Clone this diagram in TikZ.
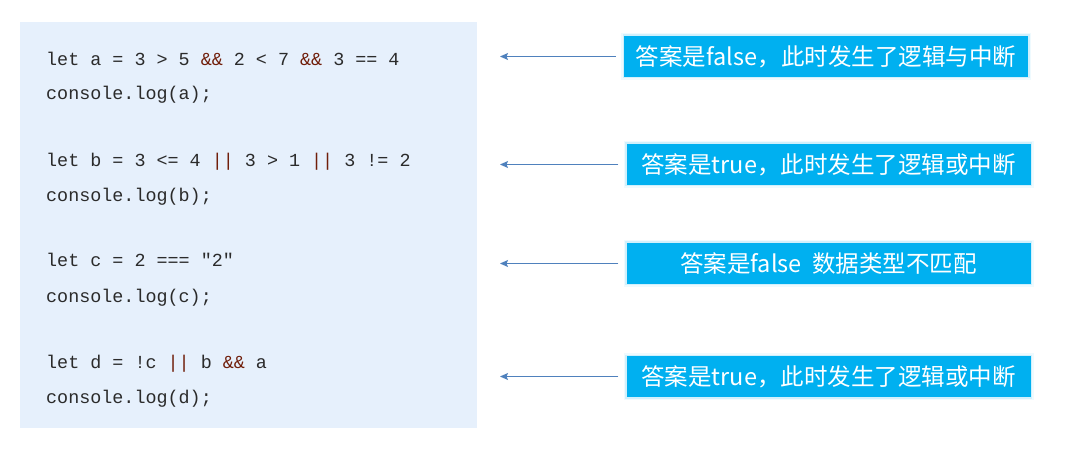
\documentclass[tikz,border=0pt]{standalone}
\usepackage{fontspec}
\usetikzlibrary{arrows.meta}
\newfontfamily\cjk{Noto Sans CJK SC}
\newfontfamily\codefont{Liberation Mono}
\definecolor{panel}{HTML}{E6F0FC}
\definecolor{boxblue}{HTML}{00B0F0}
\definecolor{arrowblue}{HTML}{4F81BD}
\definecolor{codetext}{HTML}{2B2B2B}
\definecolor{opred}{HTML}{701E0A}
\newcommand\opr[1]{\textcolor{opred}{#1}}
\begin{document}
\begin{tikzpicture}[x=1pt,y=-1pt,
  code/.style={anchor=base west, inner sep=0pt, font=\codefont\fontsize{18.4}{20}\selectfont, text=codetext},
  answer/.style={fill=boxblue, minimum width=404pt, minimum height=41pt, inner sep=0pt,
    text=white, font=\cjk\fontsize{23.5}{26}\selectfont,
    preaction={draw=boxblue!60, line width=6pt, draw opacity=0.10},
    preaction={draw=boxblue!60, line width=3pt, draw opacity=0.22}},
  link/.style={draw=arrowblue, line width=1.2pt, shorten <=8pt, -{Stealth[length=8pt,width=7pt,inset=1.5pt]}}
]
\fill[white] (0,0) rectangle (1076,462);
\useasboundingbox (0,0) rectangle (1076,462);
\fill[panel] (20,22) rectangle (477,428);

\node[code] (c1) at (46,66) {let a = 3 > 5 \opr{\&\&} 2 < 7 \opr{\&\&} 3 == 4};
\node[code] (c2) at (46,100) {console.log(a);};
\node[code] (c3) at (46,167) {let b = 3 <= 4 \opr{||} 3 > 1 \opr{||} 3 != 2};
\node[code] (c4) at (46,202) {console.log(b);};
\node[code] (c5) at (46,267) {let c = 2 === "2"};
\node[code] (c6) at (46,302) {console.log(c);};
\node[code] (c7) at (46,368) {let d = !c \opr{||} b \opr{\&\&} a};
\node[code] (c8) at (46,403) {console.log(d);};

\node[answer] (b1) at (826,56.5) {答案是false，此时发生了逻辑与中断};
\node[answer] (b2) at (828.5,164.5) {答案是true，此时发生了逻辑或中断};
\node[answer] (b3) at (828.5,263.5) {答案是false\ \ 数据类型不匹配};
\node[answer] (b4) at (828.5,376.5) {答案是true，此时发生了逻辑或中断};

\coordinate (t1) at (500,56.5);
\coordinate (t2) at (500,164.5);
\coordinate (t3) at (500,263.5);
\coordinate (t4) at (500,376.5);

\draw[link] (b1.west) -- (t1);
\draw[link] (b2.west) -- (t2);
\draw[link] (b3.west) -- (t3);
\draw[link] (b4.west) -- (t4);
\end{tikzpicture}
\end{document}
